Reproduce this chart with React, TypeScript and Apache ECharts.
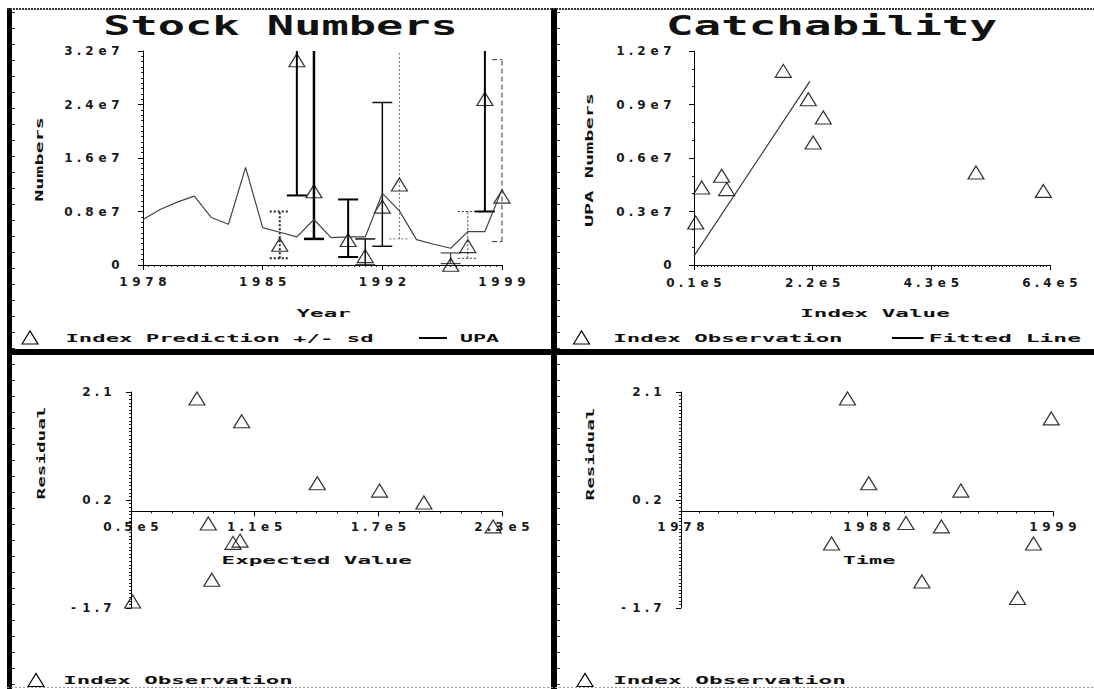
import React, { useEffect, useRef } from 'react';
import * as echarts from 'echarts';

// ---------------- data ----------------
const UPA_YEARS = [1978, 1979, 1980, 1981, 1982, 1983, 1984, 1985, 1986, 1987, 1988, 1989, 1990, 1991, 1992, 1993, 1994, 1995, 1996, 1997, 1998, 1999];
const UPA_NUMBERS = [0.68e7, 0.83e7, 0.94e7, 1.03e7, 0.71e7, 0.61e7, 1.46e7, 0.56e7, 0.49e7, 0.42e7, 0.68e7, 0.41e7, 0.42e7, 0.42e7, 1.07e7, 0.81e7, 0.38e7, 0.31e7, 0.25e7, 0.5e7, 0.5e7, 1.13e7];

const PRED_YEARS = [1986, 1987, 1988, 1990, 1991, 1992, 1993, 1996, 1997, 1998, 1999];
const PRED_INDEX = [0.4e7, 3.16e7, 1.2e7, 0.47e7, 0.23e7, 0.97e7, 1.3e7, 0.1e7, 0.38e7, 2.58e7, 1.12e7];
const PRED_LOW = [0.1e7, 1.04e7, 0.39e7, 0.12e7, 0, 0.28e7, 0.39e7, 0.02e7, 0.1e7, 0.8e7, 0.35e7];
const PRED_HIGH = [0.8e7, 4.5e7, 3.22e7, 0.98e7, 0.39e7, 2.43e7, 4.5e7, 0.18e7, 0.8e7, 4.5e7, 3.07e7];

const CATCH_INDEX = [13000, 23600, 59000, 67800, 168000, 212300, 238800, 220800, 509000, 628200];
const CATCH_UPA = [2.75e6, 4.71e6, 5.37e6, 4.62e6, 11.25e6, 9.66e6, 8.64e6, 7.23e6, 5.55e6, 4.52e6];
const FIT_INDEX = [10000, 215000];
const FIT_UPA = [0.05e7, 1.03e7];

const EXPECTED = [82000, 103700, 140400, 170600, 192100, 87500, 99500, 102900, 89200, 50800, 225700];
const EXPECTED_RESID = [2.1, 1.7, 0.61, 0.48, 0.27, -0.1, -0.44, -0.4, -1.09, -1.47, -0.15];

const TIME = [1987.4, 1998.9, 1988.6, 1993.8, 1990.7, 1992.7, 1986.5, 1997.9, 1991.6, 1997.0];
const TIME_RESID = [2.1, 1.75, 0.61, 0.48, -0.09, -0.15, -0.45, -0.45, -1.12, -1.41];

// tick values and labels
const STOCK_X_VALUES = [1978, 1985, 1992, 1999];
const STOCK_X_LABELS = ['1978', '1985', '1992', '1999'];
const STOCK_Y_VALUES = [0, 0.8e7, 1.6e7, 2.4e7, 3.2e7];
const STOCK_Y_LABELS = ['0', '0.8e7', '1.6e7', '2.4e7', '3.2e7'];
const CATCH_X_VALUES = [10000, 220000, 430000, 640000];
const CATCH_X_LABELS = ['0.1e5', '2.2e5', '4.3e5', '6.4e5'];
const CATCH_Y_VALUES = [0, 0.3e7, 0.6e7, 0.9e7, 1.2e7];
const CATCH_Y_LABELS = ['0', '0.3e7', '0.6e7', '0.9e7', '1.2e7'];
const EXP_X_VALUES = [50000, 110000, 170000, 230000];
const EXP_X_LABELS = ['0.5e5', '1.1e5', '1.7e5', '2.3e5'];
const RES_Y_VALUES = [-1.7, 0.2, 2.1];
const RES_Y_LABELS = ['-1.7', '0.2', '2.1'];
const TIME_X_VALUES = [1978, 1988.5, 1999];
const TIME_X_LABELS = ['1978', '1988', '1999'];

// per-bar look (style only)
const BAR_LOOK = [
  { w: 2, dash: [2, 2], c: '#222' },
  { w: 2, dash: null, c: '#000' },
  { w: 2.5, dash: null, c: '#000' },
  { w: 2, dash: null, c: '#000' },
  { w: 1.5, dash: null, c: '#111' },
  { w: 1.5, dash: null, c: '#111' },
  { w: 1, dash: [2, 2], c: '#777' },
  { w: 1, dash: null, c: '#222' },
  { w: 1, dash: [2, 2], c: '#333' },
  { w: 2, dash: null, c: '#000' },
  { w: 1, dash: [5, 3], c: '#333' },
];

// ---------------- layout ----------------
const RES_GRID_H = 216;
const RES_MIN = -1.7;
const RES_MAX = 2.1;
// move the x axis of the residual plots onto residual = 0
const RES_X_OFFSET = -((0 - RES_MIN) / (RES_MAX - RES_MIN)) * RES_GRID_H;

// ---------------- helpers ----------------
const cells = (s: string) =>
  s.split('').map((ch) => (ch === '.' ? `{d|${ch}}` : `{c|${ch}}`)).join('');

const CELL_STYLE = { align: 'center', fontSize: 12, fontWeight: 'bold', fontFamily: 'DejaVu Sans', color: '#1a1a1a', lineHeight: 12 };
const RICH = { c: { ...CELL_STYLE, width: 13 }, d: { ...CELL_STYLE, width: 8 } };

const fmt = (vals: number[], labels: string[]) => (v: number) => {
  const span = Math.abs(vals[vals.length - 1] - vals[0]) || 1;
  const k = vals.findIndex((t) => Math.abs(t - v) < span * 1e-4);
  return k >= 0 ? cells(labels[k]) : '';
};

const axisBase = (gridIndex: number, min: number, max: number, interval: number, vals: number[], labels: string[], minor: number, margin: number, offset = 0) => ({
  type: 'value',
  gridIndex,
  min,
  max,
  interval,
  offset,
  splitLine: { show: false },
  axisLine: { show: true, onZero: false, lineStyle: { color: '#000', width: 1 } },
  axisTick: { show: true, length: 5, lineStyle: { color: '#000', width: 1 } },
  minorTick: { show: true, splitNumber: minor, length: 2, lineStyle: { color: '#222', width: 1 } },
  minorSplitLine: { show: false },
  axisLabel: { margin, formatter: fmt(vals, labels), rich: RICH, showMinLabel: true, showMaxLabel: true, hideOverlap: false },
});

const T = (text: string, x: number, y: number, cell: number, size = 11, rot = 0) => ({
  type: 'text',
  x,
  y,
  rotation: rot,
  scaleX: cell / (size * 0.602),
  scaleY: 1,
  z: 10,
  style: {
    text,
    font: `bold ${size}px "DejaVu Sans Mono"`,
    fill: '#111',
    align: 'center',
    verticalAlign: 'middle',
    textAlign: 'center',
    textVerticalAlign: 'middle',
  },
});

const TRI = (cx: number, cy: number) => ({
  type: 'polygon',
  z: 10,
  shape: { points: [[cx - 8, cy + 6.5], [cx, cy - 6.5], [cx + 8, cy + 6.5]] },
  style: { fill: 'none', stroke: '#000', lineWidth: 1.2 },
});

const LEG_LINE = (x1: number, x2: number, y: number) => ({
  type: 'line',
  z: 10,
  shape: { x1, y1: y, x2, y2: y },
  style: { stroke: '#000', lineWidth: 2 },
});

const triSeries = (xi: number, xs: number[], ys: number[], name: string) => ({
  type: 'scatter',
  name,
  xAxisIndex: xi,
  yAxisIndex: xi,
  clip: false,
  symbol: 'triangle',
  symbolSize: [16, 13],
  symbolOffset: [0, 6.5],
  itemStyle: { color: 'rgba(0,0,0,0)', borderColor: '#000', borderWidth: 1.2 },
  data: xs.map((x, i) => [x, ys[i]]),
});

export default function App() {
  const ref = useRef<HTMLDivElement>(null);

  useEffect(() => {
    if (!ref.current) return;
    const chart = echarts.init(ref.current, null, { renderer: 'svg' });

    const option: any = {
      animation: false,
      backgroundColor: '#fff',
      grid: [
        { left: 143, top: 51, width: 359, height: 214 },
        { left: 694, top: 51, width: 356, height: 214 },
        { left: 131, top: 392, width: 371, height: RES_GRID_H },
        { left: 681, top: 392, width: 372, height: RES_GRID_H },
      ],
      xAxis: [
        axisBase(0, 1978, 1999, 7, STOCK_X_VALUES, STOCK_X_LABELS, 21, 11),
        axisBase(1, 10000, 640000, 210000, CATCH_X_VALUES, CATCH_X_LABELS, 35, 12),
        axisBase(2, 50000, 230000, 60000, EXP_X_VALUES, EXP_X_LABELS, 6, 10, RES_X_OFFSET),
        axisBase(3, 1978, 1999, 10.5, TIME_X_VALUES, TIME_X_LABELS, 10, 10, RES_X_OFFSET),
      ],
      yAxis: [
        axisBase(0, 0, 3.2e7, 0.8e7, STOCK_Y_VALUES, STOCK_Y_LABELS, 10, 21),
        axisBase(1, 0, 1.2e7, 0.3e7, CATCH_Y_VALUES, CATCH_Y_LABELS, 3, 20),
        axisBase(2, RES_MIN, RES_MAX, 1.9, RES_Y_VALUES, RES_Y_LABELS, 30, 17),
        axisBase(3, RES_MIN, RES_MAX, 1.9, RES_Y_VALUES, RES_Y_LABELS, 30, 17),
      ],
      series: [
        {
          type: 'custom',
          name: 'sd',
          xAxisIndex: 0,
          yAxisIndex: 0,
          clip: false,
          encode: { x: 0, y: [1, 2] },
          data: PRED_YEARS.map((y, i) => [y, PRED_LOW[i], PRED_HIGH[i]]),
          renderItem: (params: any, api: any) => {
            const cs = params.coordSys;
            const top = cs.y, bot = cs.y + cs.height, left = cs.x, right = cs.x + cs.width;
            const x = api.value(0);
            const pl = api.coord([x, api.value(1)]);
            const ph = api.coord([x, api.value(2)]);
            const look = BAR_LOOK[params.dataIndex] || { w: 1, dash: null, c: '#000' };
            const style: any = { stroke: look.c, lineWidth: look.w, fill: 'none' };
            if (look.dash) style.lineDash = look.dash;
            const half = 10;
            const cx = pl[0];
            const children: any[] = [
              { type: 'line', shape: { x1: cx, y1: Math.min(pl[1], bot), x2: cx, y2: Math.max(ph[1], top) }, style },
            ];
            if (pl[1] <= bot + 0.5) {
              children.push({ type: 'line', shape: { x1: Math.max(left, cx - half), y1: pl[1], x2: Math.min(right, cx + half), y2: pl[1] }, style });
            }
            if (ph[1] >= top - 1) {
              children.push({ type: 'line', shape: { x1: Math.max(left, cx - half), y1: ph[1], x2: Math.min(right, cx + half), y2: ph[1] }, style });
            }
            return { type: 'group', children };
          },
        },
        triSeries(0, PRED_YEARS, PRED_INDEX, 'Index Prediction +/- sd'),
        {
          type: 'line',
          name: 'UPA',
          xAxisIndex: 0,
          yAxisIndex: 0,
          symbol: 'none',
          lineStyle: { color: '#444', width: 1.2 },
          data: UPA_YEARS.map((y, i) => [y, UPA_NUMBERS[i]]),
        },
        triSeries(1, CATCH_INDEX, CATCH_UPA, 'Index Observation'),
        {
          type: 'line',
          name: 'Fitted Line',
          xAxisIndex: 1,
          yAxisIndex: 1,
          symbol: 'none',
          lineStyle: { color: '#333', width: 1.2 },
          data: FIT_INDEX.map((x, i) => [x, FIT_UPA[i]]),
        },
        triSeries(2, EXPECTED, EXPECTED_RESID, 'Index Observation'),
        triSeries(3, TIME, TIME_RESID, 'Index Observation'),
      ],
      graphic: [
        // frame
        { type: 'rect', z: 20, shape: { x: 7, y: 8, width: 5, height: 681 }, style: { fill: '#000' } },
        { type: 'rect', z: 20, shape: { x: 551, y: 8, width: 6, height: 681 }, style: { fill: '#000' } },
        { type: 'rect', z: 20, shape: { x: 7, y: 349, width: 1087, height: 6 }, style: { fill: '#000' } },
        { type: 'line', z: 20, shape: { x1: 7, y1: 9, x2: 1094, y2: 9 }, style: { stroke: '#333', lineWidth: 2, lineDash: [2, 1] } },
        { type: 'line', z: 20, shape: { x1: 7, y1: 687.5, x2: 1094, y2: 687.5 }, style: { stroke: '#999', lineWidth: 1, lineDash: [2, 2] } },
        { type: 'line', z: 20, shape: { x1: 13.5, y1: 12, x2: 13.5, y2: 689 }, style: { stroke: '#333', lineWidth: 3, lineDash: [1, 15] } },
        { type: 'line', z: 20, shape: { x1: 558.5, y1: 12, x2: 558.5, y2: 689 }, style: { stroke: '#333', lineWidth: 3, lineDash: [1, 15] } },
        // titles
        T('Stock Numbers', 280.5, 26, 27.3, 26),
        T('Catchability', 831.5, 26, 27.6, 26),
        // axis names
        T('Numbers', 39.5, 159.5, 12.1, 11, Math.PI / 2),
        T('Year', 323.7, 313, 13.6),
        T('UPA Numbers', 589, 160, 12.2, 11, Math.PI / 2),
        T('Index Value', 875, 313, 13.6),
        T('Residual', 41.3, 453, 11.6, 11, Math.PI / 2),
        T('Expected Value', 316.7, 560, 13.6),
        T('Residual', 590, 454, 11.6, 11, Math.PI / 2),
        T('Time', 869, 560, 13.2),
        // legends
        TRI(30, 337.5),
        T('Index Prediction +/- sd', 219.5, 338, 13.4),
        LEG_LINE(419, 447, 338),
        T('UPA', 479.5, 338, 13),
        TRI(581.5, 337.5),
        T('Index Observation', 727.9, 338, 13.5),
        LEG_LINE(892, 923.5, 338),
        T('Fitted Line', 1004.9, 338, 13.85),
        TRI(36, 680),
        T('Index Observation', 178, 680, 13.5),
        TRI(585, 680),
        T('Index Observation', 729.5, 680, 13.7),
      ],
    };

    chart.setOption(option);
    return () => chart.dispose();
  }, []);

  return (
    <div
      ref={ref}
      style={{ position: 'absolute', left: 0, top: 0, width: 1094, height: 689, background: '#fff' }}
    />
  );
}
